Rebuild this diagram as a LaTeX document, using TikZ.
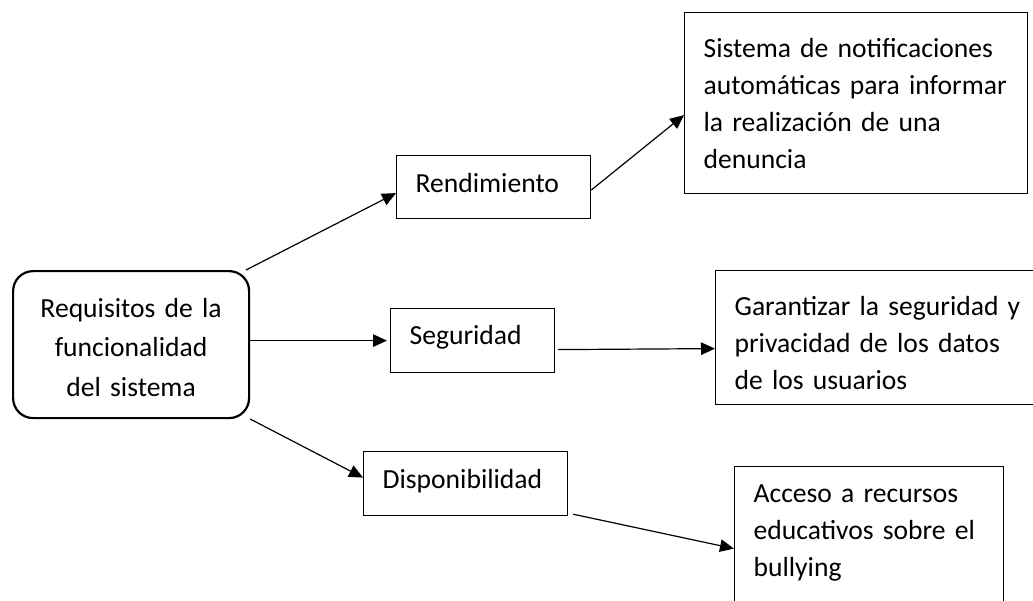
\documentclass[tikz,border=0pt]{standalone}
\usepackage{fontspec}
\setmainfont{Carlito}
\usetikzlibrary{arrows.meta}

\begin{document}
\begin{tikzpicture}[x=1pt,y=-1pt,
        caja/.style={draw, line width=1.2pt, anchor=north west, inner xsep=19pt, inner ysep=0pt, align=left, font=\fontsize{27.6pt}{37pt}\selectfont},
        raiz/.style={draw, line width=2.2pt, rounded corners=20pt, anchor=north west, inner xsep=0pt, inner ysep=0pt, align=center, text width=236pt, font=\fontsize{27.6pt}{39.5pt}\selectfont},
        flecha/.style={->, line width=1.2pt},
        >={Triangle[length=14pt,width=12.5pt]}]
        \useasboundingbox (0,0) rectangle (1033,600);

        \node [raiz, text height=46pt, text depth=101pt] (req) at (12,270) {Requisitos de la\\funcionalidad\\del sistema};

        \node [caja, text width=156pt, text height=37pt, text depth=26pt] (rend) at (396,155) {Rendimiento};
        \node [caja, text width=126pt, text height=36pt, text depth=28pt] (seg) at (390,308) {Seguridad};
        \node [caja, text width=166pt, text height=37pt, text depth=27pt] (disp) at (363,451) {Disponibilidad};

        \node [caja, text width=305pt, text height=45pt, text depth=136pt] (notif) at (684,12) {Sistema de notificaciones\\automáticas para informar\\la realización de una\\denuncia};
        \node [caja, text width=292pt, text height=45pt, text depth=89pt] (priv) at (715,270) {Garantizar la seguridad y\\privacidad de los datos\\de los usuarios};
        \node [caja, text width=231pt, text height=36pt, text depth=128pt] (recur) at (734,466) {Acceso a recursos\\educativos sobre el\\bullying};

        \draw[flecha] (req.33) -- ([yshift=-6pt]rend.west);
        \draw[flecha, shorten >=3pt] (req.east |- seg.west) -- (seg.west);
        \draw[flecha] (req.-32) -- ([yshift=6pt]disp.west);

        \draw[flecha] ([yshift=-3pt]rend.east) -- ([yshift=-12pt]notif.west);
        \draw[flecha] ([xshift=3pt,yshift=-9pt]seg.east) -- ([yshift=-11pt]priv.west);
        \draw[flecha] ([xshift=5pt,yshift=2pt]disp.south east) -- (recur.west);
    \end{tikzpicture}
\end{document}
